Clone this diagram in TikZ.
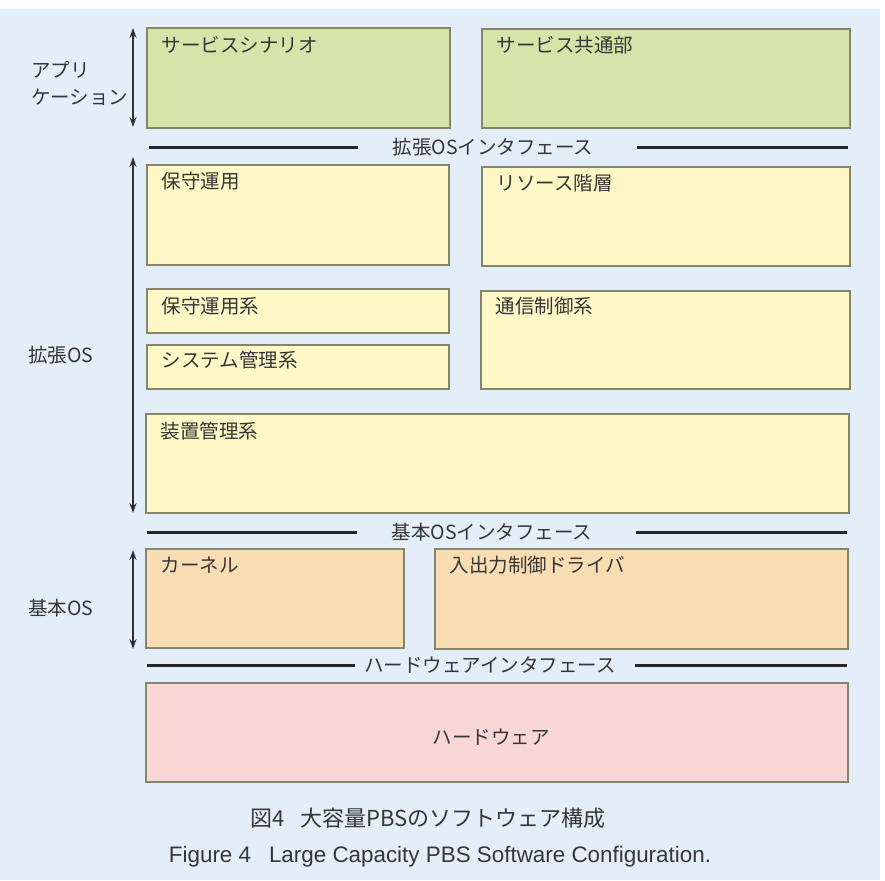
\documentclass[tikz,border=0pt]{standalone}
\usepackage{fontspec}
\setmainfont{Noto Sans CJK JP}
\newfontfamily\capfont{Liberation Sans}
\usetikzlibrary{fit,arrows.meta}
\definecolor{bgblue}{HTML}{E3EEF8}
\definecolor{appgreen}{HTML}{D6E4AA}
\definecolor{extyellow}{HTML}{FDF8C6}
\definecolor{baseorange}{HTML}{F9DDB2}
\definecolor{hwpink}{HTML}{F8D6D6}
\definecolor{boxborder}{HTML}{85856C}
\definecolor{txtcol}{HTML}{363636}
\begin{document}
\begin{tikzpicture}[x=1pt,y=-1pt,
  box/.style={draw=boxborder, line width=1.1pt, inner sep=0pt},
  txt/.style={text=txtcol, inner sep=0pt, font=\fontsize{19.5}{22}\selectfont},
  ifline/.style={line width=3pt, black!85},
  layerarrow/.style={line width=1.2pt, black!80, {Stealth[length=10pt,width=7pt]}-{Stealth[length=10pt,width=7pt]}},
  capjp/.style={text=txtcol, inner sep=0pt, font=\fontsize{22}{24}\selectfont},
  capen/.style={text=txtcol, inner sep=0pt, font=\capfont\fontsize{22.4}{24}\selectfont}]
\useasboundingbox (0,0) rectangle (885,880);
\fill[white] (0,0) rectangle (885,880);
\fill[bgblue] (0,9) rectangle (880,880);

% application layer
\node[box, fill=appgreen, fit={(147,28) (450,128)}] (app1) {};
\node[box, fill=appgreen, fit={(482,29) (850,128)}] (app2) {};
\node[txt, anchor=west] (t-app1) at ([xshift=15pt,yshift=-17pt]app1.north west) {サービスシナリオ};
\node[txt, anchor=west] (t-app2) at ([xshift=15pt,yshift=-17pt]app2.north west) {サービス共通部};

% extended OS interface
\node[txt] (if1) at (493,147) {拡張OSインタフェース};
\coordinate (if1a) at (149,147); \coordinate (if1b) at (358,147);
\coordinate (if1c) at (637,147); \coordinate (if1d) at (848,147);
\draw[ifline] (if1a) -- (if1b);
\draw[ifline] (if1c) -- (if1d);

% extended OS layer
\node[box, fill=extyellow, fit={(147,165) (449,265)}] (ext1) {};
\node[box, fill=extyellow, fit={(482,167) (850,266)}] (ext2) {};
\node[box, fill=extyellow, fit={(147,289) (449,333)}] (ext3) {};
\node[box, fill=extyellow, fit={(147,345) (449,389)}] (ext4) {};
\node[box, fill=extyellow, fit={(481,291) (850,389)}] (ext5) {};
\node[box, fill=extyellow, fit={(146,414) (849,513)}] (ext6) {};
\node[txt, anchor=west] (t-ext1) at ([xshift=15pt,yshift=-17pt]ext1.north west) {保守運用};
\node[txt, anchor=west] (t-ext2) at ([xshift=15pt,yshift=-17pt]ext2.north west) {リソース階層};
\node[txt, anchor=west] (t-ext3) at ([xshift=15pt,yshift=-18pt]ext3.north west) {保守運用系};
\node[txt, anchor=west] (t-ext4) at ([xshift=15pt,yshift=-16pt]ext4.north west) {システム管理系};
\node[txt, anchor=west] (t-ext5) at ([xshift=15pt,yshift=-16pt]ext5.north west) {通信制御系};
\node[txt, anchor=west] (t-ext6) at ([xshift=15pt,yshift=-18pt]ext6.north west) {装置管理系};

% basic OS interface
\node[txt] (if2) at (492,532) {基本OSインタフェース};
\coordinate (if2a) at (147,532); \coordinate (if2b) at (357,532);
\coordinate (if2c) at (636,532); \coordinate (if2d) at (847,532);
\draw[ifline] (if2a) -- (if2b);
\draw[ifline] (if2c) -- (if2d);

% basic OS layer
\node[box, fill=baseorange, fit={(146,549) (404,648)}] (base1) {};
\node[box, fill=baseorange, fit={(435,549) (848,649)}] (base2) {};
\node[txt, anchor=west] (t-base1) at ([xshift=15pt,yshift=-17pt]base1.north west) {カーネル};
\node[txt, anchor=west] (t-base2) at ([xshift=15pt,yshift=-17pt]base2.north west) {入出力制御ドライバ};

% hardware interface
\node[txt] (if3) at (490,665) {ハードウェアインタフェース};
\coordinate (if3a) at (147,665); \coordinate (if3b) at (355,665);
\coordinate (if3c) at (635,665); \coordinate (if3d) at (847,665);
\draw[ifline] (if3a) -- (if3b);
\draw[ifline] (if3c) -- (if3d);

% hardware
\node[box, fill=hwpink, fit={(146,683) (848,782)}] (hw) {};
\node[txt] (t-hw) at (491,737) {ハードウェア};

% layer arrows and labels
\coordinate (arA1) at (133,28); \coordinate (arA2) at (133,127);
\coordinate (arE1) at (133,157); \coordinate (arE2) at (133,513);
\coordinate (arB1) at (133,550); \coordinate (arB2) at (133,649);
\draw[layerarrow] (arA1) -- (arA2);
\draw[layerarrow] (arE1) -- (arE2);
\draw[layerarrow] (arB1) -- (arB2);
\node[txt, anchor=west] (l-app1) at (31,70) {アプリ};
\node[txt, anchor=west] (l-app2) at (31,97) {ケーション};
\node[txt, anchor=west] (l-ext) at (28,355) {拡張OS};
\node[txt, anchor=west] (l-base) at (28,608) {基本OS};

% caption
\node[capjp] (cap1) at (428,818) {図4\hspace{0.7em}大容量PBSのソフトウェア構成};
\node[capen] (cap2) at (440,857) {Figure 4\hspace{0.8em}Large Capacity PBS Software Configuration.};
\end{tikzpicture}
\end{document}
